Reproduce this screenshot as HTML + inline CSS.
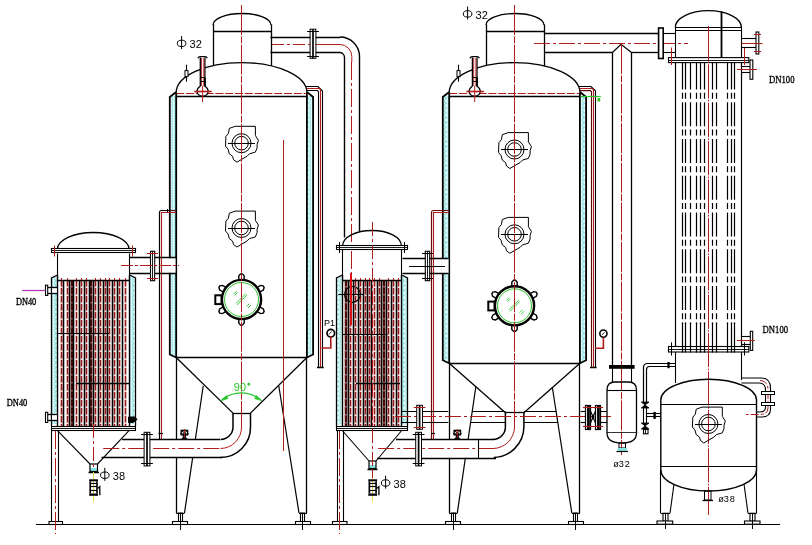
<!DOCTYPE html>
<html><head><meta charset="utf-8"><style>
html,body{margin:0;padding:0;background:#fff;}
svg{display:block;font-family:"Liberation Sans",sans-serif;}
</style></head><body>
<svg width="812" height="545" viewBox="0 0 812 545">
<defs>
<filter id="nolcd" filterUnits="userSpaceOnUse" x="0" y="0" width="812" height="545"><feOffset dx="0" dy="0"/></filter>
<pattern id="ins" width="6" height="4.8" patternUnits="userSpaceOnUse">
<rect width="6" height="4.8" fill="#e2fafa"/><path d="M0,0.6 L2.5,2.4 L0,4.2 M3.5,1.2 L5,1.2 M3.5,3.6 L5,3.6" stroke="#4ccccc" stroke-width="0.9" fill="none"/>
</pattern>
</defs>
<rect width="812" height="545" fill="#fff"/>
<line x1="36" y1="524.5" x2="780" y2="524.5" stroke="#000" stroke-width="1.2"/>
<path d="M57.5,249 A35.75,16.5 0 0 1 129,249" stroke="#000" stroke-width="1.3" fill="none"/>
<rect x="51.5" y="248.5" width="84" height="4" stroke="#000" stroke-width="1.1" fill="#fff"/>
<line x1="51" y1="250.5" x2="135.5" y2="250.5" stroke="#000" stroke-width="0.9"/>
<line x1="54.5" y1="245.5" x2="54.5" y2="256.5" stroke="#b01c1c" stroke-width="1"/>
<line x1="132.5" y1="245.5" x2="132.5" y2="256.5" stroke="#b01c1c" stroke-width="1"/>
<line x1="57.5" y1="253.5" x2="57.5" y2="281" stroke="#000" stroke-width="1.1"/>
<line x1="129.5" y1="253.5" x2="129.5" y2="281" stroke="#000" stroke-width="1.1"/>
<line x1="61.5" y1="280" x2="61.5" y2="426" stroke="#f6dede" stroke-width="2.4"/>
<line x1="67.5" y1="280" x2="67.5" y2="426" stroke="#f6dede" stroke-width="2.4"/>
<line x1="76.5" y1="280" x2="76.5" y2="426" stroke="#f6dede" stroke-width="2.4"/>
<line x1="81.5" y1="280" x2="81.5" y2="426" stroke="#f6dede" stroke-width="2.4"/>
<line x1="86.5" y1="280" x2="86.5" y2="426" stroke="#f6dede" stroke-width="2.4"/>
<line x1="95.5" y1="280" x2="95.5" y2="426" stroke="#f6dede" stroke-width="2.4"/>
<line x1="100.5" y1="280" x2="100.5" y2="426" stroke="#f6dede" stroke-width="2.4"/>
<line x1="105.5" y1="280" x2="105.5" y2="426" stroke="#f6dede" stroke-width="2.4"/>
<line x1="109.5" y1="280" x2="109.5" y2="426" stroke="#f6dede" stroke-width="2.4"/>
<line x1="114.5" y1="280" x2="114.5" y2="426" stroke="#f6dede" stroke-width="2.4"/>
<line x1="119.5" y1="280" x2="119.5" y2="426" stroke="#f6dede" stroke-width="2.4"/>
<line x1="125.5" y1="280" x2="125.5" y2="426" stroke="#f6dede" stroke-width="2.4"/>
<line x1="61.5" y1="280" x2="61.5" y2="426" stroke="#9c1818" stroke-width="1.5" stroke-dasharray="6.4 1.6"/>
<line x1="67.5" y1="280" x2="67.5" y2="426" stroke="#9c1818" stroke-width="1.5" stroke-dasharray="6.4 1.6"/>
<line x1="76.5" y1="280" x2="76.5" y2="426" stroke="#9c1818" stroke-width="1.5" stroke-dasharray="6.4 1.6"/>
<line x1="81.5" y1="280" x2="81.5" y2="426" stroke="#9c1818" stroke-width="1.5" stroke-dasharray="6.4 1.6"/>
<line x1="86.5" y1="280" x2="86.5" y2="426" stroke="#9c1818" stroke-width="1.5" stroke-dasharray="6.4 1.6"/>
<line x1="95.5" y1="280" x2="95.5" y2="426" stroke="#9c1818" stroke-width="1.5" stroke-dasharray="6.4 1.6"/>
<line x1="100.5" y1="280" x2="100.5" y2="426" stroke="#9c1818" stroke-width="1.5" stroke-dasharray="6.4 1.6"/>
<line x1="105.5" y1="280" x2="105.5" y2="426" stroke="#9c1818" stroke-width="1.5" stroke-dasharray="6.4 1.6"/>
<line x1="109.5" y1="280" x2="109.5" y2="426" stroke="#9c1818" stroke-width="1.5" stroke-dasharray="6.4 1.6"/>
<line x1="114.5" y1="280" x2="114.5" y2="426" stroke="#9c1818" stroke-width="1.5" stroke-dasharray="6.4 1.6"/>
<line x1="119.5" y1="280" x2="119.5" y2="426" stroke="#9c1818" stroke-width="1.5" stroke-dasharray="6.4 1.6"/>
<line x1="125.5" y1="280" x2="125.5" y2="426" stroke="#9c1818" stroke-width="1.5" stroke-dasharray="6.4 1.6"/>
<line x1="72" y1="280" x2="72" y2="426" stroke="#4a0606" stroke-width="2.6"/>
<line x1="72" y1="286" x2="72" y2="426" stroke="#fff" stroke-width="0.8" stroke-dasharray="1.4 6.6"/>
<line x1="91" y1="280" x2="91" y2="426" stroke="#4a0606" stroke-width="2.6"/>
<line x1="91" y1="286" x2="91" y2="426" stroke="#fff" stroke-width="0.8" stroke-dasharray="1.4 6.6"/>
<line x1="63.5" y1="280" x2="63.5" y2="426" stroke="#000" stroke-width="1.6"/>
<line x1="69.5" y1="280" x2="69.5" y2="426" stroke="#000" stroke-width="1.6"/>
<line x1="73.5" y1="280" x2="73.5" y2="426" stroke="#000" stroke-width="1.6"/>
<line x1="79.5" y1="280" x2="79.5" y2="426" stroke="#000" stroke-width="1.6"/>
<line x1="84.5" y1="280" x2="84.5" y2="426" stroke="#000" stroke-width="1.6"/>
<line x1="89.5" y1="280" x2="89.5" y2="426" stroke="#000" stroke-width="1.6"/>
<line x1="93.5" y1="280" x2="93.5" y2="426" stroke="#000" stroke-width="1.6"/>
<line x1="98.5" y1="280" x2="98.5" y2="426" stroke="#000" stroke-width="1.6"/>
<line x1="103.5" y1="280" x2="103.5" y2="426" stroke="#000" stroke-width="1.6"/>
<line x1="107.5" y1="280" x2="107.5" y2="426" stroke="#000" stroke-width="1.6"/>
<line x1="112.5" y1="280" x2="112.5" y2="426" stroke="#000" stroke-width="1.6"/>
<line x1="117.5" y1="280" x2="117.5" y2="426" stroke="#000" stroke-width="1.6"/>
<line x1="122.5" y1="280" x2="122.5" y2="426" stroke="#000" stroke-width="1.6"/>
<line x1="57.5" y1="280.5" x2="129" y2="280.5" stroke="#000" stroke-width="1.3"/>
<line x1="61.5" y1="278" x2="61.5" y2="280" stroke="#b01c1c" stroke-width="1"/>
<line x1="67.5" y1="278" x2="67.5" y2="280" stroke="#b01c1c" stroke-width="1"/>
<line x1="76.5" y1="278" x2="76.5" y2="280" stroke="#b01c1c" stroke-width="1"/>
<line x1="81.5" y1="278" x2="81.5" y2="280" stroke="#b01c1c" stroke-width="1"/>
<line x1="86.5" y1="278" x2="86.5" y2="280" stroke="#b01c1c" stroke-width="1"/>
<line x1="95.5" y1="278" x2="95.5" y2="280" stroke="#b01c1c" stroke-width="1"/>
<line x1="100.5" y1="278" x2="100.5" y2="280" stroke="#b01c1c" stroke-width="1"/>
<line x1="105.5" y1="278" x2="105.5" y2="280" stroke="#b01c1c" stroke-width="1"/>
<line x1="109.5" y1="278" x2="109.5" y2="280" stroke="#b01c1c" stroke-width="1"/>
<line x1="114.5" y1="278" x2="114.5" y2="280" stroke="#b01c1c" stroke-width="1"/>
<line x1="119.5" y1="278" x2="119.5" y2="280" stroke="#b01c1c" stroke-width="1"/>
<line x1="125.5" y1="278" x2="125.5" y2="280" stroke="#b01c1c" stroke-width="1"/>
<rect x="52" y="277" width="5" height="147" fill="url(#ins)"/>
<rect x="129.5" y="277" width="5" height="147" fill="url(#ins)"/>
<path d="M57.5,275 L51.5,278 L51.5,426" stroke="#000" stroke-width="1.3" fill="none"/>
<path d="M129.5,275 L135.5,278 L135.5,426" stroke="#000" stroke-width="1.3" fill="none"/>
<line x1="57.5" y1="275" x2="57.5" y2="426" stroke="#000" stroke-width="1.4"/>
<line x1="129.5" y1="275" x2="129.5" y2="426" stroke="#000" stroke-width="1.4"/>
<rect x="51.5" y="426.5" width="84" height="4" stroke="#000" stroke-width="1.1" fill="#fff"/>
<line x1="51" y1="428.5" x2="135.5" y2="428.5" stroke="#000" stroke-width="0.9"/>
<line x1="57.5" y1="430.6" x2="90" y2="464" stroke="#000" stroke-width="1.1"/>
<line x1="129" y1="430.6" x2="97.5" y2="464" stroke="#000" stroke-width="1.1"/>
<rect x="90" y="468" width="7.5" height="3" fill="#86e6e6"/>
<rect x="90" y="464" width="7.5" height="7.5" stroke="#000" stroke-width="1.2" fill="none"/>
<line x1="88.5" y1="472.5" x2="99" y2="472.5" stroke="#000" stroke-width="1.5"/>
<line x1="57" y1="333.5" x2="109" y2="333.5" stroke="#000" stroke-width="1.2"/>
<line x1="76" y1="383.5" x2="129" y2="383.5" stroke="#000" stroke-width="1.4"/>
<rect x="52" y="287.6" width="5" height="5.4" fill="#fff"/>
<line x1="47.7" y1="287.5" x2="57" y2="287.5" stroke="#000" stroke-width="1.3"/>
<line x1="47.7" y1="293.5" x2="57" y2="293.5" stroke="#000" stroke-width="1.3"/>
<rect x="45.5" y="285.2" width="2.2" height="10.2" stroke="#000" stroke-width="1.1" fill="#fff"/>
<rect x="52" y="414.7" width="5" height="5.4" fill="#fff"/>
<line x1="47.7" y1="414.5" x2="57" y2="414.5" stroke="#000" stroke-width="1.3"/>
<line x1="47.7" y1="420.5" x2="57" y2="420.5" stroke="#000" stroke-width="1.3"/>
<rect x="45.5" y="412.3" width="2.2" height="10.2" stroke="#000" stroke-width="1.1" fill="#fff"/>
<line x1="22.2" y1="290.5" x2="45.5" y2="290.5" stroke="#b030b0" stroke-width="1.2"/>
<line x1="51.5" y1="431" x2="51.5" y2="521.5" stroke="#000" stroke-width="1.1"/>
<line x1="58.5" y1="431" x2="58.5" y2="521.5" stroke="#000" stroke-width="1.1"/>
<rect x="49" y="521.5" width="13.5" height="3" stroke="#000" stroke-width="1.1" fill="#fff"/>
<line x1="55.5" y1="431" x2="55.5" y2="534" stroke="#b01c1c" stroke-width="1" stroke-dasharray="18 3 3 3"/>
<line x1="93.5" y1="424" x2="93.5" y2="470" stroke="#b01c1c" stroke-width="1" stroke-dasharray="14 3 3 3"/>
<line x1="93.5" y1="472" x2="93.5" y2="502" stroke="#e6e34a" stroke-width="1"/>
<rect x="89.2" y="479.3" width="8.8" height="2" fill="#000"/>
<rect x="89.2" y="493.5" width="8.8" height="2.3" fill="#000"/>
<path d="M90.2,481.3 L90.2,493.5 M97,481.3 L97,493.5" stroke="#000" stroke-width="1.6" fill="none"/>
<line x1="90.2" y1="483.5" x2="97" y2="483.5" stroke="#000" stroke-width="1.2"/>
<line x1="90.2" y1="486.5" x2="97" y2="486.5" stroke="#000" stroke-width="1.2"/>
<line x1="90.2" y1="490.5" x2="97" y2="490.5" stroke="#000" stroke-width="1.2"/>
<path d="M98,488.3 L99.8,486.7 L99.8,495.3" stroke="#000" stroke-width="1.3" fill="none"/>
<g stroke="#000" stroke-width="1" fill="none"><line x1="104.8" y1="467.8" x2="104.8" y2="480.8"/><ellipse cx="104.8" cy="475.2" rx="4.3" ry="3.2"/></g>
<path d="M213,25 A29,11.5 0 0 1 271,25" stroke="#000" stroke-width="1.3" fill="none"/>
<line x1="213.5" y1="24.5" x2="213.5" y2="66" stroke="#000" stroke-width="1.3"/>
<line x1="271.5" y1="24.5" x2="271.5" y2="66" stroke="#000" stroke-width="1.3"/>
<line x1="213" y1="31.5" x2="271" y2="31.5" stroke="#000" stroke-width="1.3"/>
<path d="M176.2,92.5 A65.35,29.9 0 0 1 306.9,92.5" stroke="#000" stroke-width="1.4" fill="none"/>
<line x1="176.2" y1="93.5" x2="308.9" y2="93.5" stroke="#b01c1c" stroke-width="1" stroke-dasharray="8 1.8"/>
<line x1="176.2" y1="96.5" x2="306.9" y2="96.5" stroke="#000" stroke-width="1.3"/>
<rect x="170.8" y="96" width="5.4" height="259.5" fill="url(#ins)"/>
<rect x="306.9" y="96" width="5.4" height="259.5" fill="url(#ins)"/>
<path d="M176.2,92.5 L176.2,357.5" stroke="#000" stroke-width="1.8" fill="none"/>
<path d="M176.2,92 L169.8,97 L169.8,354.5 L176.2,357.5" stroke="#000" stroke-width="1.8" fill="none"/>
<path d="M306.9,92.5 L306.9,357.5" stroke="#000" stroke-width="1.8" fill="none"/>
<path d="M306.9,92 L313.1,97 L313.1,354.5 L306.9,357.5" stroke="#000" stroke-width="1.8" fill="none"/>
<line x1="176.2" y1="357.5" x2="306.9" y2="357.5" stroke="#000" stroke-width="1.3"/>
<line x1="176.2" y1="357.5" x2="233" y2="413.1" stroke="#000" stroke-width="1.3"/>
<line x1="306.9" y1="357.5" x2="250.5" y2="413.1" stroke="#000" stroke-width="1.3"/>
<line x1="233" y1="413.5" x2="250.5" y2="413.5" stroke="#000" stroke-width="1.3"/>
<path d="M233,413.1 L233,427 A12.5,12.5 0 0 1 220.5,439.5" stroke="#000" stroke-width="1.5" fill="none"/>
<path d="M250.5,413.1 L250.5,427 A30,30 0 0 1 220.5,457.5" stroke="#000" stroke-width="1.5" fill="none"/>
<path d="M241.5,410.1 L241.5,427 A21.25,21.25 0 0 1 220.5,448.5" stroke="#b01c1c" stroke-width="1" fill="none"/>
<line x1="176.5" y1="357.5" x2="176.5" y2="513" stroke="#000" stroke-width="1.3"/>
<line x1="203.2" y1="386" x2="184.5" y2="513" stroke="#000" stroke-width="1.2"/>
<line x1="176.2" y1="513.5" x2="184.5" y2="513.5" stroke="#000" stroke-width="1.1"/>
<rect x="178.5" y="513" width="4" height="9" stroke="#000" stroke-width="1.1" fill="none"/>
<rect x="172.5" y="521.5" width="15" height="3" stroke="#000" stroke-width="1.1" fill="#fff"/>
<line x1="180.5" y1="513" x2="180.5" y2="530" stroke="#000" stroke-width="1"/>
<line x1="306.5" y1="357.5" x2="306.5" y2="513" stroke="#000" stroke-width="1.3"/>
<line x1="278.8" y1="386" x2="299" y2="513" stroke="#000" stroke-width="1.2"/>
<line x1="306.9" y1="513.5" x2="299" y2="513.5" stroke="#000" stroke-width="1.1"/>
<rect x="300.5" y="513" width="4" height="9" stroke="#000" stroke-width="1.1" fill="none"/>
<rect x="295.5" y="521.5" width="15" height="3" stroke="#000" stroke-width="1.1" fill="#fff"/>
<line x1="302.5" y1="513" x2="302.5" y2="530" stroke="#000" stroke-width="1"/>
<path d="M229.3,128.4 L235.2,126.3 L255.4,126.3 L255.4,135.6 L258.4,140.2 L257.1,144.5 L257.1,147.8 L255.4,152.1 L249.5,153.8 L247,156.3 L241.1,159.7 L236.9,162.2 L233.5,159.7 L232.6,156.3 L229.3,153.8 L228,149.1 L225.5,146.2 L225.9,136.4 L228.4,133.5Z" stroke="#000" stroke-width="1" fill="none"/>
<circle cx="241.5" cy="143.2" r="9.5" stroke="#000" stroke-width="1" fill="none"/>
<circle cx="241.5" cy="143.2" r="6.8" stroke="#000" stroke-width="1" fill="none"/>
<line x1="228" y1="143.5" x2="255" y2="143.5" stroke="#000" stroke-width="1"/>
<path d="M229.3,213.2 L235.2,211.1 L255.4,211.1 L255.4,220.4 L258.4,225 L257.1,229.3 L257.1,232.6 L255.4,236.9 L249.5,238.6 L247,241.1 L241.1,244.5 L236.9,247 L233.5,244.5 L232.6,241.1 L229.3,238.6 L228,233.9 L225.5,231 L225.9,221.2 L228.4,218.3Z" stroke="#000" stroke-width="1" fill="none"/>
<circle cx="241.5" cy="228" r="9.5" stroke="#000" stroke-width="1" fill="none"/>
<circle cx="241.5" cy="228" r="6.8" stroke="#000" stroke-width="1" fill="none"/>
<line x1="228" y1="228.5" x2="255" y2="228.5" stroke="#000" stroke-width="1"/>
<path d="M244.2,280 L244.2,275.9 L242.5,273.9 L240.5,273.9 L238.8,275.9 L238.8,280Z" stroke="#000" stroke-width="1.4" fill="#fff"/>
<path d="M259.74,292.09 L263.29,290.04 L264.17,287.57 L263.17,285.83 L260.59,285.36 L257.04,287.41Z" stroke="#000" stroke-width="1.4" fill="#fff"/>
<path d="M257.04,311.59 L260.59,313.64 L263.17,313.17 L264.17,311.43 L263.29,308.96 L259.74,306.91Z" stroke="#000" stroke-width="1.4" fill="#fff"/>
<path d="M238.8,319 L238.8,323.1 L240.5,325.1 L242.5,325.1 L244.2,323.1 L244.2,319Z" stroke="#000" stroke-width="1.4" fill="#fff"/>
<path d="M223.26,306.91 L219.71,308.96 L218.83,311.43 L219.83,313.17 L222.41,313.64 L225.96,311.59Z" stroke="#000" stroke-width="1.4" fill="#fff"/>
<path d="M225.96,287.41 L222.41,285.36 L219.83,285.83 L218.83,287.57 L219.71,290.04 L223.26,292.09Z" stroke="#000" stroke-width="1.4" fill="#fff"/>
<circle cx="241.5" cy="299.5" r="19.6" stroke="#000" stroke-width="2.4" fill="#fff"/>
<circle cx="241.5" cy="299.5" r="17" stroke="#2cc52c" stroke-width="1" fill="none"/>
<rect x="215.3" y="295.3" width="6.2" height="8.8" stroke="#000" stroke-width="2" fill="#fff"/>
<line x1="233.5" y1="294" x2="236.5" y2="291" stroke="#2cc52c" stroke-width="0.9"/>
<line x1="234.5" y1="295.5" x2="237.5" y2="292.5" stroke="#2cc52c" stroke-width="0.9"/>
<line x1="236" y1="303.5" x2="246" y2="293.5" stroke="#2cc52c" stroke-width="0.9"/>
<line x1="237" y1="305" x2="247" y2="295" stroke="#2cc52c" stroke-width="0.9"/>
<line x1="246.5" y1="306.5" x2="249.5" y2="303.5" stroke="#2cc52c" stroke-width="0.9"/>
<line x1="248" y1="308" x2="251" y2="305" stroke="#2cc52c" stroke-width="0.9"/>
<line x1="241.5" y1="5" x2="241.5" y2="418" stroke="#b01c1c" stroke-width="1" stroke-dasharray="30 1.3 7 1.3"/>
<path d="M200.3,57.5 L200.3,86 Q197,88.5 197,91.5 Q197.6,96 202.6,96.2 Q207.6,96 208.2,91.5 Q208.2,88.5 204.9,86 L204.9,57.5" stroke="#000" stroke-width="1.3" fill="#fff"/>
<path d="M198,58.3 Q198.6,56.6 200.1,56.6 L205.1,56.6 Q206.6,56.6 207.2,58.3" stroke="#000" stroke-width="1.4" fill="none"/>
<line x1="201.6" y1="58" x2="201.6" y2="86" stroke="#b01c1c" stroke-width="0.9"/>
<line x1="203.8" y1="58" x2="203.8" y2="86" stroke="#b01c1c" stroke-width="0.9"/>
<line x1="200.3" y1="77.5" x2="204.9" y2="77.5" stroke="#000" stroke-width="1"/>
<line x1="200.3" y1="81.5" x2="204.9" y2="81.5" stroke="#000" stroke-width="1"/>
<line x1="204.9" y1="77.5" x2="204.9" y2="86.5" stroke="#000" stroke-width="1.8"/>
<line x1="202.6" y1="86" x2="202.6" y2="102" stroke="#b01c1c" stroke-width="1"/>
<line x1="194.3" y1="91.5" x2="211.7" y2="91.5" stroke="#b01c1c" stroke-width="1.6"/>
<line x1="186.5" y1="64.7" x2="186.5" y2="81.7" stroke="#000" stroke-width="1.1"/>
<rect x="185" y="70.6" width="3" height="6" stroke="#000" stroke-width="1" fill="#fff"/>
<line x1="283.5" y1="140" x2="283.5" y2="451" stroke="#b01c1c" stroke-width="1"/>
<path d="M159.5,439 L159.5,212.5 Q159.5,210.5 161.5,210.5 L170,210.5" stroke="#000" stroke-width="1.2" fill="none"/>
<path d="M170,210.5 L176,210.5" stroke="#6a0a0a" stroke-width="1.2" fill="none"/>
<path d="M161.5,439 L161.5,212.5 L176,212.5" stroke="#b01c1c" stroke-width="1.1" fill="none"/>
<line x1="158.5" y1="433.5" x2="163" y2="433.5" stroke="#000" stroke-width="1.2"/>
<path d="M128.5,417 L135,417 L137,419.5 L133,422.5 L128.5,422.5 Z" stroke="#000" stroke-width="1" fill="#000"/>
<line x1="167.5" y1="209" x2="167.5" y2="212" stroke="#000" stroke-width="1"/>
<rect x="168" y="258.2" width="7.5" height="14.6" fill="#fff"/>
<line x1="129" y1="257.5" x2="176" y2="257.5" stroke="#000" stroke-width="1.4"/>
<line x1="129" y1="273.5" x2="176" y2="273.5" stroke="#000" stroke-width="1.4"/>
<rect x="150.5" y="251.3" width="4.2" height="29.4" stroke="#000" stroke-width="1.1" fill="#fff"/>
<line x1="152.5" y1="251.3" x2="152.5" y2="280.7" stroke="#000" stroke-width="0.9"/>
<line x1="147" y1="253.5" x2="158" y2="253.5" stroke="#b01c1c" stroke-width="1"/>
<line x1="147" y1="278.5" x2="158" y2="278.5" stroke="#b01c1c" stroke-width="1"/>
<line x1="121" y1="265.5" x2="179" y2="265.5" stroke="#b01c1c" stroke-width="1" stroke-dasharray="12 2 3 2"/>
<g stroke="#000" stroke-width="1" fill="none"><line x1="181.6" y1="36" x2="181.6" y2="49"/><ellipse cx="181.6" cy="43.4" rx="4.3" ry="3.2"/></g>
<path d="M222.5,399.3 A30.5,30.5 0 0 1 260.1,399.3" stroke="#2cc52c" stroke-width="1.2" fill="none"/>
<path d="M220.6,400.8 L226.5,395.6 L227.8,398.6 Z" stroke="#2cc52c" stroke-width="0.8" fill="#2cc52c"/>
<path d="M262,400.8 L256.1,395.6 L254.8,398.6 Z" stroke="#2cc52c" stroke-width="0.8" fill="#2cc52c"/>
<circle cx="248.8" cy="384.2" r="1.1" stroke="#2cc52c" stroke-width="0.8" fill="#2cc52c"/>
<line x1="270.5" y1="37.5" x2="340" y2="37.5" stroke="#000" stroke-width="1.3"/>
<line x1="270.5" y1="52.5" x2="340" y2="52.5" stroke="#000" stroke-width="1.3"/>
<path d="M340,37 A19.5,19.5 0 0 1 359.5,56.5 L359.5,231" stroke="#000" stroke-width="1.4" fill="none"/>
<path d="M340,52.5 A5,5 0 0 1 344.5,57.5 L344.5,237.5" stroke="#000" stroke-width="1.4" fill="none"/>
<line x1="272" y1="44.5" x2="310" y2="44.5" stroke="#b01c1c" stroke-width="1" stroke-dasharray="12 3 3 3"/>
<path d="M310,44.5 L340,44.5 A12,12 0 0 1 351.8,56.5 L351.8,62" stroke="#b01c1c" stroke-width="1" fill="none"/>
<line x1="351.5" y1="62" x2="351.5" y2="273" stroke="#b01c1c" stroke-width="1" stroke-dasharray="18 3 3 3"/>
<rect x="310.1" y="29.2" width="5.8" height="29.1" stroke="#000" stroke-width="1" fill="#fff"/>
<line x1="313" y1="29.2" x2="313" y2="58.3" stroke="#000" stroke-width="1.7"/>
<line x1="307.1" y1="31.5" x2="318.9" y2="31.5" stroke="#000" stroke-width="1"/>
<line x1="307.1" y1="56.5" x2="318.9" y2="56.5" stroke="#000" stroke-width="1"/>
<path d="M306,86.5 L318,86.5 L322.5,91 L322.5,367" stroke="#000" stroke-width="1.1" fill="none"/>
<path d="M307,88.5 L319.5,88.5 L320.5,90 L320.5,367" stroke="#b01c1c" stroke-width="1.1" fill="none"/>
<path d="M307,90.5 L317.5,90.5 L318.5,92 L318.5,367" stroke="#000" stroke-width="1.1" fill="none"/>
<line x1="317" y1="367.5" x2="323.7" y2="367.5" stroke="#000" stroke-width="1.5"/>
<circle cx="330.8" cy="333.2" r="3.8" stroke="#000" stroke-width="1.7" fill="#fff"/>
<line x1="329" y1="334.5" x2="331.5" y2="331.5" stroke="#000" stroke-width="0.8"/>
<path d="M330.8,336.5 L330.8,348 L321.5,348" stroke="#b01c1c" stroke-width="1.6" fill="none"/>
<rect x="181.2" y="430.4" width="6.4" height="4.4" stroke="#000" stroke-width="1.4" fill="#fff"/>
<line x1="182" y1="431.2" x2="186.8" y2="434.2" stroke="#000" stroke-width="1"/>
<line x1="182" y1="434.2" x2="186.8" y2="431.2" stroke="#000" stroke-width="1"/>
<line x1="180.1" y1="433.5" x2="181.2" y2="433.5" stroke="#000" stroke-width="1.2"/>
<line x1="187.6" y1="433.5" x2="188.7" y2="433.5" stroke="#000" stroke-width="1.2"/>
<path d="M183.1,434.8 L185.7,434.8 L185.7,437.3 L187.2,439.1 L181.6,439.1 L183.1,437.3 Z" stroke="#000" stroke-width="0.6" fill="#000"/>
<line x1="184.4" y1="429" x2="184.4" y2="437.8" stroke="#b01c1c" stroke-width="1"/>
<rect x="123" y="440" width="97" height="17" fill="#fff"/>
<line x1="122" y1="439.5" x2="220" y2="439.5" stroke="#000" stroke-width="1.4"/>
<line x1="101.5" y1="457.5" x2="222" y2="457.5" stroke="#000" stroke-width="1.4"/>
<line x1="103.2" y1="448.5" x2="221" y2="448.5" stroke="#b01c1c" stroke-width="1" stroke-dasharray="16 3 3 3"/>
<rect x="144.1" y="432.3" width="5.8" height="33.6" stroke="#000" stroke-width="1" fill="#fff"/>
<line x1="147" y1="432.3" x2="147" y2="465.9" stroke="#000" stroke-width="1.7"/>
<line x1="141.1" y1="434.5" x2="152.9" y2="434.5" stroke="#000" stroke-width="1"/>
<line x1="141.1" y1="463.5" x2="152.9" y2="463.5" stroke="#000" stroke-width="1"/>
<path d="M342.7,245.5 A29.3,15 0 0 1 401.3,245.5" stroke="#000" stroke-width="1.3" fill="none"/>
<rect x="336.5" y="245.5" width="71" height="4" stroke="#000" stroke-width="1.1" fill="#fff"/>
<line x1="336.2" y1="247.5" x2="407.8" y2="247.5" stroke="#000" stroke-width="0.9"/>
<line x1="339.5" y1="242" x2="339.5" y2="253" stroke="#000" stroke-width="1"/>
<line x1="404.5" y1="242" x2="404.5" y2="253" stroke="#000" stroke-width="1"/>
<line x1="342.5" y1="250" x2="342.5" y2="281" stroke="#000" stroke-width="1.1"/>
<line x1="401.5" y1="250" x2="401.5" y2="281" stroke="#000" stroke-width="1.1"/>
<line x1="350.5" y1="280" x2="350.5" y2="426.4" stroke="#f6dede" stroke-width="2.4"/>
<line x1="355.5" y1="280" x2="355.5" y2="426.4" stroke="#f6dede" stroke-width="2.4"/>
<line x1="360.5" y1="280" x2="360.5" y2="426.4" stroke="#f6dede" stroke-width="2.4"/>
<line x1="365.5" y1="280" x2="365.5" y2="426.4" stroke="#f6dede" stroke-width="2.4"/>
<line x1="369.5" y1="280" x2="369.5" y2="426.4" stroke="#f6dede" stroke-width="2.4"/>
<line x1="374.5" y1="280" x2="374.5" y2="426.4" stroke="#f6dede" stroke-width="2.4"/>
<line x1="379.5" y1="280" x2="379.5" y2="426.4" stroke="#f6dede" stroke-width="2.4"/>
<line x1="388.5" y1="280" x2="388.5" y2="426.4" stroke="#f6dede" stroke-width="2.4"/>
<line x1="393.5" y1="280" x2="393.5" y2="426.4" stroke="#f6dede" stroke-width="2.4"/>
<line x1="398.5" y1="280" x2="398.5" y2="426.4" stroke="#f6dede" stroke-width="2.4"/>
<line x1="350.5" y1="280" x2="350.5" y2="426.4" stroke="#9c1818" stroke-width="1.5" stroke-dasharray="6.4 1.6"/>
<line x1="355.5" y1="280" x2="355.5" y2="426.4" stroke="#9c1818" stroke-width="1.5" stroke-dasharray="6.4 1.6"/>
<line x1="360.5" y1="280" x2="360.5" y2="426.4" stroke="#9c1818" stroke-width="1.5" stroke-dasharray="6.4 1.6"/>
<line x1="365.5" y1="280" x2="365.5" y2="426.4" stroke="#9c1818" stroke-width="1.5" stroke-dasharray="6.4 1.6"/>
<line x1="369.5" y1="280" x2="369.5" y2="426.4" stroke="#9c1818" stroke-width="1.5" stroke-dasharray="6.4 1.6"/>
<line x1="374.5" y1="280" x2="374.5" y2="426.4" stroke="#9c1818" stroke-width="1.5" stroke-dasharray="6.4 1.6"/>
<line x1="379.5" y1="280" x2="379.5" y2="426.4" stroke="#9c1818" stroke-width="1.5" stroke-dasharray="6.4 1.6"/>
<line x1="388.5" y1="280" x2="388.5" y2="426.4" stroke="#9c1818" stroke-width="1.5" stroke-dasharray="6.4 1.6"/>
<line x1="393.5" y1="280" x2="393.5" y2="426.4" stroke="#9c1818" stroke-width="1.5" stroke-dasharray="6.4 1.6"/>
<line x1="398.5" y1="280" x2="398.5" y2="426.4" stroke="#9c1818" stroke-width="1.5" stroke-dasharray="6.4 1.6"/>
<line x1="346" y1="280" x2="346" y2="426.4" stroke="#4a0606" stroke-width="2.6"/>
<line x1="346" y1="286" x2="346" y2="426.4" stroke="#fff" stroke-width="0.8" stroke-dasharray="1.4 6.6"/>
<line x1="384" y1="280" x2="384" y2="426.4" stroke="#4a0606" stroke-width="2.6"/>
<line x1="384" y1="286" x2="384" y2="426.4" stroke="#fff" stroke-width="0.8" stroke-dasharray="1.4 6.6"/>
<line x1="348.5" y1="280" x2="348.5" y2="426.4" stroke="#000" stroke-width="1.6"/>
<line x1="353.5" y1="280" x2="353.5" y2="426.4" stroke="#000" stroke-width="1.6"/>
<line x1="358.5" y1="280" x2="358.5" y2="426.4" stroke="#000" stroke-width="1.6"/>
<line x1="363.5" y1="280" x2="363.5" y2="426.4" stroke="#000" stroke-width="1.6"/>
<line x1="367.5" y1="280" x2="367.5" y2="426.4" stroke="#000" stroke-width="1.6"/>
<line x1="371.5" y1="280" x2="371.5" y2="426.4" stroke="#000" stroke-width="1.6"/>
<line x1="377.5" y1="280" x2="377.5" y2="426.4" stroke="#000" stroke-width="1.6"/>
<line x1="381.5" y1="280" x2="381.5" y2="426.4" stroke="#000" stroke-width="1.6"/>
<line x1="386.5" y1="280" x2="386.5" y2="426.4" stroke="#000" stroke-width="1.6"/>
<line x1="391.5" y1="280" x2="391.5" y2="426.4" stroke="#000" stroke-width="1.6"/>
<line x1="396.5" y1="280" x2="396.5" y2="426.4" stroke="#000" stroke-width="1.6"/>
<line x1="342.7" y1="280.5" x2="401.3" y2="280.5" stroke="#000" stroke-width="1.3"/>
<line x1="350.5" y1="278" x2="350.5" y2="280" stroke="#b01c1c" stroke-width="1"/>
<line x1="355.5" y1="278" x2="355.5" y2="280" stroke="#b01c1c" stroke-width="1"/>
<line x1="360.5" y1="278" x2="360.5" y2="280" stroke="#b01c1c" stroke-width="1"/>
<line x1="365.5" y1="278" x2="365.5" y2="280" stroke="#b01c1c" stroke-width="1"/>
<line x1="369.5" y1="278" x2="369.5" y2="280" stroke="#b01c1c" stroke-width="1"/>
<line x1="374.5" y1="278" x2="374.5" y2="280" stroke="#b01c1c" stroke-width="1"/>
<line x1="379.5" y1="278" x2="379.5" y2="280" stroke="#b01c1c" stroke-width="1"/>
<line x1="388.5" y1="278" x2="388.5" y2="280" stroke="#b01c1c" stroke-width="1"/>
<line x1="393.5" y1="278" x2="393.5" y2="280" stroke="#b01c1c" stroke-width="1"/>
<line x1="398.5" y1="278" x2="398.5" y2="280" stroke="#b01c1c" stroke-width="1"/>
<rect x="337.2" y="277" width="5" height="147.4" fill="url(#ins)"/>
<rect x="401.8" y="277" width="5" height="147.4" fill="url(#ins)"/>
<path d="M342.5,275 L336.5,278 L336.5,426.4" stroke="#000" stroke-width="1.3" fill="none"/>
<path d="M401.5,275 L407.5,278 L407.5,426.4" stroke="#000" stroke-width="1.3" fill="none"/>
<line x1="342.5" y1="275" x2="342.5" y2="426.4" stroke="#000" stroke-width="1.4"/>
<line x1="401.5" y1="275" x2="401.5" y2="426.4" stroke="#000" stroke-width="1.4"/>
<rect x="336.5" y="426.5" width="71" height="4" stroke="#000" stroke-width="1.1" fill="#fff"/>
<line x1="336.2" y1="428.5" x2="407.8" y2="428.5" stroke="#000" stroke-width="0.9"/>
<line x1="342.7" y1="431" x2="369" y2="461" stroke="#000" stroke-width="1.1"/>
<line x1="401.3" y1="431" x2="376" y2="461" stroke="#000" stroke-width="1.1"/>
<rect x="369" y="465" width="7" height="3" fill="#86e6e6"/>
<rect x="369" y="461" width="7" height="7.5" stroke="#000" stroke-width="1.2" fill="none"/>
<line x1="367.5" y1="469.5" x2="377.5" y2="469.5" stroke="#000" stroke-width="1.5"/>
<line x1="356" y1="383.5" x2="400" y2="383.5" stroke="#000" stroke-width="1.4"/>
<line x1="342.5" y1="334.5" x2="387.5" y2="334.5" stroke="#000" stroke-width="1.2"/>
<circle cx="352.5" cy="294.4" r="7.9" stroke="#000" stroke-width="1.2" fill="none"/>
<line x1="338.4" y1="294.5" x2="363.8" y2="294.5" stroke="#000" stroke-width="1.1"/>
<line x1="351" y1="273" x2="351" y2="325" stroke="#dd1111" stroke-width="2"/>
<line x1="372.5" y1="222" x2="372.5" y2="472" stroke="#b01c1c" stroke-width="1" stroke-dasharray="14 3 3 3"/>
<line x1="337.5" y1="431" x2="337.5" y2="521.5" stroke="#000" stroke-width="1.1"/>
<line x1="343.5" y1="431" x2="343.5" y2="521.5" stroke="#000" stroke-width="1.1"/>
<rect x="332.5" y="521.5" width="14.5" height="3" stroke="#000" stroke-width="1.1" fill="#fff"/>
<line x1="339.5" y1="431" x2="339.5" y2="534" stroke="#b01c1c" stroke-width="1" stroke-dasharray="18 3 3 3"/>
<line x1="372.5" y1="472" x2="372.5" y2="502" stroke="#e6e34a" stroke-width="1"/>
<line x1="372.5" y1="470" x2="372.5" y2="478" stroke="#b01c1c" stroke-width="1"/>
<rect x="368.3" y="479.3" width="8.8" height="2" fill="#000"/>
<rect x="368.3" y="493.5" width="8.8" height="2.3" fill="#000"/>
<path d="M369.3,481.3 L369.3,493.5 M376.1,481.3 L376.1,493.5" stroke="#000" stroke-width="1.6" fill="none"/>
<line x1="369.3" y1="483.5" x2="376.1" y2="483.5" stroke="#000" stroke-width="1.2"/>
<line x1="369.3" y1="486.5" x2="376.1" y2="486.5" stroke="#000" stroke-width="1.2"/>
<line x1="369.3" y1="490.5" x2="376.1" y2="490.5" stroke="#000" stroke-width="1.2"/>
<path d="M377.1,488.3 L378.9,486.7 L378.9,495.3" stroke="#000" stroke-width="1.3" fill="none"/>
<g stroke="#000" stroke-width="1" fill="none"><line x1="385.6" y1="475.6" x2="385.6" y2="488.6"/><ellipse cx="385.6" cy="483" rx="4.3" ry="3.2"/></g>
<path d="M486,25 A29,11.5 0 0 1 544,25" stroke="#000" stroke-width="1.3" fill="none"/>
<line x1="486.5" y1="24.5" x2="486.5" y2="66" stroke="#000" stroke-width="1.3"/>
<line x1="544.5" y1="24.5" x2="544.5" y2="66" stroke="#000" stroke-width="1.3"/>
<line x1="486" y1="31.5" x2="544" y2="31.5" stroke="#000" stroke-width="1.3"/>
<path d="M449.2,92.5 A65.35,29.9 0 0 1 579.9,92.5" stroke="#000" stroke-width="1.4" fill="none"/>
<line x1="449.2" y1="93.5" x2="581.9" y2="93.5" stroke="#b01c1c" stroke-width="1" stroke-dasharray="8 1.8"/>
<line x1="449.2" y1="96.5" x2="579.9" y2="96.5" stroke="#000" stroke-width="1.3"/>
<rect x="443.8" y="96" width="5.4" height="265.3" fill="url(#ins)"/>
<rect x="579.9" y="96" width="5.4" height="265.3" fill="url(#ins)"/>
<path d="M449.2,92.5 L449.2,363.3" stroke="#000" stroke-width="1.8" fill="none"/>
<path d="M449.2,92 L442.8,97 L442.8,360.3 L449.2,363.3" stroke="#000" stroke-width="1.8" fill="none"/>
<path d="M579.9,92.5 L579.9,363.3" stroke="#000" stroke-width="1.8" fill="none"/>
<path d="M579.9,92 L586.1,97 L586.1,360.3 L579.9,363.3" stroke="#000" stroke-width="1.8" fill="none"/>
<line x1="449.2" y1="363.5" x2="579.9" y2="363.5" stroke="#000" stroke-width="1.3"/>
<line x1="449.2" y1="363.3" x2="505.4" y2="412.8" stroke="#000" stroke-width="1.3"/>
<line x1="579.9" y1="363.3" x2="523.9" y2="412.8" stroke="#000" stroke-width="1.3"/>
<line x1="505.4" y1="412.5" x2="523.9" y2="412.5" stroke="#000" stroke-width="1.3"/>
<path d="M505.4,412.8 L505.4,427 A12.5,12.5 0 0 1 492.9,439.5" stroke="#000" stroke-width="1.5" fill="none"/>
<path d="M523.9,412.8 L523.9,427 A31,31 0 0 1 492.9,457.5" stroke="#000" stroke-width="1.5" fill="none"/>
<path d="M514.5,409.8 L514.5,427 A21.75,21.75 0 0 1 492.9,448.5" stroke="#b01c1c" stroke-width="1" fill="none"/>
<line x1="449.5" y1="363.3" x2="449.5" y2="513" stroke="#000" stroke-width="1.3"/>
<line x1="475.8" y1="387" x2="457.3" y2="513" stroke="#000" stroke-width="1.2"/>
<line x1="449.2" y1="513.5" x2="457.3" y2="513.5" stroke="#000" stroke-width="1.1"/>
<rect x="451.5" y="513" width="4" height="9" stroke="#000" stroke-width="1.1" fill="none"/>
<rect x="445.5" y="521.5" width="15" height="3" stroke="#000" stroke-width="1.1" fill="#fff"/>
<line x1="453.5" y1="513" x2="453.5" y2="530" stroke="#000" stroke-width="1"/>
<line x1="579.5" y1="363.3" x2="579.5" y2="513" stroke="#000" stroke-width="1.3"/>
<line x1="552.3" y1="387" x2="571.8" y2="513" stroke="#000" stroke-width="1.2"/>
<line x1="579.9" y1="513.5" x2="571.8" y2="513.5" stroke="#000" stroke-width="1.1"/>
<rect x="573.5" y="513" width="4" height="9" stroke="#000" stroke-width="1.1" fill="none"/>
<rect x="568.5" y="521.5" width="15" height="3" stroke="#000" stroke-width="1.1" fill="#fff"/>
<line x1="575.5" y1="513" x2="575.5" y2="530" stroke="#000" stroke-width="1"/>
<path d="M502.3,134.7 L508.2,132.6 L528.4,132.6 L528.4,141.9 L531.4,146.5 L530.1,150.8 L530.1,154.1 L528.4,158.4 L522.5,160.1 L520,162.6 L514.1,166 L509.9,168.5 L506.5,166 L505.6,162.6 L502.3,160.1 L501,155.4 L498.5,152.5 L498.9,142.7 L501.4,139.8Z" stroke="#000" stroke-width="1" fill="none"/>
<circle cx="514.5" cy="149.5" r="9.5" stroke="#000" stroke-width="1" fill="none"/>
<circle cx="514.5" cy="149.5" r="6.8" stroke="#000" stroke-width="1" fill="none"/>
<line x1="501" y1="149.5" x2="528" y2="149.5" stroke="#000" stroke-width="1"/>
<path d="M502.3,219.5 L508.2,217.4 L528.4,217.4 L528.4,226.7 L531.4,231.3 L530.1,235.6 L530.1,238.9 L528.4,243.2 L522.5,244.9 L520,247.4 L514.1,250.8 L509.9,253.3 L506.5,250.8 L505.6,247.4 L502.3,244.9 L501,240.2 L498.5,237.3 L498.9,227.5 L501.4,224.6Z" stroke="#000" stroke-width="1" fill="none"/>
<circle cx="514.5" cy="234.3" r="9.5" stroke="#000" stroke-width="1" fill="none"/>
<circle cx="514.5" cy="234.3" r="6.8" stroke="#000" stroke-width="1" fill="none"/>
<line x1="501" y1="234.5" x2="528" y2="234.5" stroke="#000" stroke-width="1"/>
<path d="M517.2,286.3 L517.2,282.2 L515.5,280.2 L513.5,280.2 L511.8,282.2 L511.8,286.3Z" stroke="#000" stroke-width="1.4" fill="#fff"/>
<path d="M532.74,298.39 L536.29,296.34 L537.17,293.87 L536.17,292.13 L533.59,291.66 L530.04,293.71Z" stroke="#000" stroke-width="1.4" fill="#fff"/>
<path d="M530.04,317.89 L533.59,319.94 L536.17,319.47 L537.17,317.73 L536.29,315.26 L532.74,313.21Z" stroke="#000" stroke-width="1.4" fill="#fff"/>
<path d="M511.8,325.3 L511.8,329.4 L513.5,331.4 L515.5,331.4 L517.2,329.4 L517.2,325.3Z" stroke="#000" stroke-width="1.4" fill="#fff"/>
<path d="M496.26,313.21 L492.71,315.26 L491.83,317.73 L492.83,319.47 L495.41,319.94 L498.96,317.89Z" stroke="#000" stroke-width="1.4" fill="#fff"/>
<path d="M498.96,293.71 L495.41,291.66 L492.83,292.13 L491.83,293.87 L492.71,296.34 L496.26,298.39Z" stroke="#000" stroke-width="1.4" fill="#fff"/>
<circle cx="514.5" cy="305.8" r="19.6" stroke="#000" stroke-width="2.4" fill="#fff"/>
<circle cx="514.5" cy="305.8" r="17" stroke="#2cc52c" stroke-width="1" fill="none"/>
<rect x="488.3" y="301.6" width="6.2" height="8.8" stroke="#000" stroke-width="2" fill="#fff"/>
<line x1="506.5" y1="300.3" x2="509.5" y2="297.3" stroke="#2cc52c" stroke-width="0.9"/>
<line x1="507.5" y1="301.8" x2="510.5" y2="298.8" stroke="#2cc52c" stroke-width="0.9"/>
<line x1="509" y1="309.8" x2="519" y2="299.8" stroke="#2cc52c" stroke-width="0.9"/>
<line x1="510" y1="311.3" x2="520" y2="301.3" stroke="#2cc52c" stroke-width="0.9"/>
<line x1="519.5" y1="312.8" x2="522.5" y2="309.8" stroke="#2cc52c" stroke-width="0.9"/>
<line x1="521" y1="314.3" x2="524" y2="311.3" stroke="#2cc52c" stroke-width="0.9"/>
<line x1="514.5" y1="5" x2="514.5" y2="418" stroke="#b01c1c" stroke-width="1" stroke-dasharray="30 1.3 7 1.3"/>
<path d="M472.4,57.5 L472.4,86 Q469.1,88.5 469.1,91.5 Q469.7,96 474.7,96.2 Q479.7,96 480.3,91.5 Q480.3,88.5 477,86 L477,57.5" stroke="#000" stroke-width="1.3" fill="#fff"/>
<path d="M470.1,58.3 Q470.7,56.6 472.2,56.6 L477.2,56.6 Q478.7,56.6 479.3,58.3" stroke="#000" stroke-width="1.4" fill="none"/>
<line x1="473.7" y1="58" x2="473.7" y2="86" stroke="#b01c1c" stroke-width="0.9"/>
<line x1="475.9" y1="58" x2="475.9" y2="86" stroke="#b01c1c" stroke-width="0.9"/>
<line x1="472.4" y1="77.5" x2="477" y2="77.5" stroke="#000" stroke-width="1"/>
<line x1="472.4" y1="81.5" x2="477" y2="81.5" stroke="#000" stroke-width="1"/>
<line x1="477" y1="77.5" x2="477" y2="86.5" stroke="#000" stroke-width="1.8"/>
<line x1="474.7" y1="86" x2="474.7" y2="102" stroke="#b01c1c" stroke-width="1"/>
<line x1="466.4" y1="91.5" x2="483.8" y2="91.5" stroke="#b01c1c" stroke-width="1.6"/>
<line x1="458.5" y1="64.7" x2="458.5" y2="81.7" stroke="#000" stroke-width="1.1"/>
<rect x="457" y="70.6" width="3" height="6" stroke="#000" stroke-width="1" fill="#fff"/>
<path d="M431.5,439 L431.5,212.5 Q431.5,210.5 433.5,210.5 L449,210.5" stroke="#6a0a0a" stroke-width="1.2" fill="none"/>
<path d="M433.5,439 L433.5,212.5 L449,212.5" stroke="#b01c1c" stroke-width="1.1" fill="none"/>
<line x1="431" y1="433.5" x2="435" y2="433.5" stroke="#000" stroke-width="1.2"/>
<rect x="441.5" y="258.6" width="7" height="14.6" fill="#fff"/>
<line x1="402.5" y1="258.5" x2="448.5" y2="258.5" stroke="#000" stroke-width="1.4"/>
<line x1="402.5" y1="273.5" x2="448.5" y2="273.5" stroke="#000" stroke-width="1.4"/>
<rect x="425.3" y="251.3" width="4.4" height="29.4" stroke="#000" stroke-width="1.1" fill="#fff"/>
<line x1="427.5" y1="251.3" x2="427.5" y2="280.7" stroke="#000" stroke-width="0.9"/>
<line x1="422" y1="253.5" x2="433" y2="253.5" stroke="#000" stroke-width="1"/>
<line x1="422" y1="278.5" x2="433" y2="278.5" stroke="#000" stroke-width="1"/>
<line x1="409" y1="266.5" x2="445" y2="266.5" stroke="#000" stroke-width="1"/>
<g stroke="#000" stroke-width="1" fill="none"><line x1="467.6" y1="6.5" x2="467.6" y2="19.5"/><ellipse cx="467.6" cy="13.9" rx="4.3" ry="3.2"/></g>
<path d="M578.5,86.5 L591,86.5 L595.5,90.8 L595.5,367.4" stroke="#000" stroke-width="1.1" fill="none"/>
<path d="M579.5,88.5 L592,88.5 L593.5,89.8 L593.5,367.4" stroke="#b01c1c" stroke-width="1.1" fill="none"/>
<path d="M580,90.6 L590.5,90.6 L591.5,91.8 L591.5,367.4" stroke="#5a0808" stroke-width="1.1" fill="none"/>
<line x1="590" y1="367.5" x2="596.6" y2="367.5" stroke="#000" stroke-width="1.5"/>
<line x1="581" y1="96.5" x2="600.8" y2="96.5" stroke="#2cc52c" stroke-width="1.2"/>
<rect x="597.5" y="98" width="2.7" height="3.5" fill="#2cc52c"/>
<circle cx="603.4" cy="333.6" r="3.6" stroke="#000" stroke-width="1.6" fill="#fff"/>
<line x1="602.2" y1="335" x2="604.6" y2="332.2" stroke="#000" stroke-width="0.8"/>
<path d="M603.4,337.5 L603.4,348.3 L595.1,348.3" stroke="#b01c1c" stroke-width="1.6" fill="none"/>
<rect x="454.1" y="430.4" width="6.4" height="4.4" stroke="#000" stroke-width="1.4" fill="#fff"/>
<line x1="454.9" y1="431.2" x2="459.7" y2="434.2" stroke="#000" stroke-width="1"/>
<line x1="454.9" y1="434.2" x2="459.7" y2="431.2" stroke="#000" stroke-width="1"/>
<line x1="453" y1="433.5" x2="454.1" y2="433.5" stroke="#000" stroke-width="1.2"/>
<line x1="460.5" y1="433.5" x2="461.6" y2="433.5" stroke="#000" stroke-width="1.2"/>
<path d="M456,434.8 L458.6,434.8 L458.6,437.3 L460.1,439.1 L454.5,439.1 L456,437.3 Z" stroke="#000" stroke-width="0.6" fill="#000"/>
<line x1="457.3" y1="429" x2="457.3" y2="437.8" stroke="#b01c1c" stroke-width="1"/>
<rect x="397" y="440" width="97" height="17.8" fill="#fff"/>
<line x1="396" y1="439.5" x2="494" y2="439.5" stroke="#000" stroke-width="1.4"/>
<line x1="377" y1="458.5" x2="496" y2="458.5" stroke="#000" stroke-width="1.4"/>
<line x1="378.2" y1="448.5" x2="495" y2="448.5" stroke="#b01c1c" stroke-width="1" stroke-dasharray="16 3 3 3"/>
<rect x="415.7" y="432.3" width="5.8" height="33.6" stroke="#000" stroke-width="1" fill="#fff"/>
<line x1="418.6" y1="432.3" x2="418.6" y2="465.9" stroke="#000" stroke-width="1.7"/>
<line x1="412.7" y1="434.5" x2="424.5" y2="434.5" stroke="#000" stroke-width="1"/>
<line x1="412.7" y1="463.5" x2="424.5" y2="463.5" stroke="#000" stroke-width="1"/>
<line x1="478.5" y1="439.5" x2="478.5" y2="458.3" stroke="#000" stroke-width="1.1"/>
<line x1="402" y1="411.5" x2="448.3" y2="411.5" stroke="#000" stroke-width="1.1"/>
<line x1="472.39" y1="411.5" x2="505.6" y2="411.5" stroke="#000" stroke-width="1.1"/>
<line x1="524.1" y1="411.5" x2="556.55" y2="411.5" stroke="#000" stroke-width="1.1"/>
<line x1="402" y1="422.5" x2="448.3" y2="422.5" stroke="#000" stroke-width="1.1"/>
<line x1="470.79" y1="422.5" x2="505.6" y2="422.5" stroke="#000" stroke-width="1.1"/>
<line x1="524.1" y1="422.5" x2="558.21" y2="422.5" stroke="#000" stroke-width="1.1"/>
<line x1="395" y1="416.5" x2="612" y2="416.5" stroke="#b01c1c" stroke-width="1" stroke-dasharray="16 3 3 3"/>
<rect x="416.7" y="405.3" width="5.8" height="24" stroke="#000" stroke-width="1" fill="#fff"/>
<line x1="419.6" y1="405.3" x2="419.6" y2="429.3" stroke="#000" stroke-width="1.7"/>
<line x1="413.7" y1="407.5" x2="425.5" y2="407.5" stroke="#b01c1c" stroke-width="1"/>
<line x1="413.7" y1="427.5" x2="425.5" y2="427.5" stroke="#b01c1c" stroke-width="1"/>
<line x1="415" y1="407.5" x2="424.5" y2="407.5" stroke="#b01c1c" stroke-width="1"/>
<line x1="415" y1="427.5" x2="424.5" y2="427.5" stroke="#b01c1c" stroke-width="1"/>
<line x1="544" y1="33.5" x2="663" y2="33.5" stroke="#000" stroke-width="1.3"/>
<line x1="544" y1="52.5" x2="612.7" y2="52.5" stroke="#000" stroke-width="1.3"/>
<line x1="631.2" y1="52.5" x2="663" y2="52.5" stroke="#000" stroke-width="1.3"/>
<path d="M612.7,52.3 L621,44.4 L631.2,52.3" stroke="#000" stroke-width="1.2" fill="none"/>
<line x1="612.5" y1="52.3" x2="612.5" y2="366" stroke="#000" stroke-width="1.3"/>
<line x1="631.5" y1="52.3" x2="631.5" y2="366" stroke="#000" stroke-width="1.3"/>
<line x1="534" y1="43.5" x2="688" y2="43.5" stroke="#b01c1c" stroke-width="1" stroke-dasharray="16 3 3 3"/>
<line x1="621.5" y1="44" x2="621.5" y2="455" stroke="#b01c1c" stroke-width="1" stroke-dasharray="30 1.3 7 1.3"/>
<rect x="658.6" y="28" width="4.6" height="30.5" stroke="#000" stroke-width="1.6" fill="#fff"/>
<line x1="663" y1="33.5" x2="675.5" y2="33.5" stroke="#000" stroke-width="1.1"/>
<line x1="663" y1="52.5" x2="675.5" y2="52.5" stroke="#000" stroke-width="1.1"/>
<rect x="609" y="365" width="25.6" height="3.8" fill="#000"/>
<line x1="612.5" y1="368" x2="612.5" y2="382" stroke="#000" stroke-width="1.1"/>
<line x1="631.5" y1="368" x2="631.5" y2="382" stroke="#000" stroke-width="1.1"/>
<path d="M607,433 L607,390 Q607,382 615,382 L628.5,382 Q636.5,382 636.5,390 L636.5,433 Q636.5,443 622,443 Q607,443 607,433 Z" stroke="#000" stroke-width="1.3" fill="none"/>
<line x1="607" y1="390.5" x2="636.5" y2="390.5" stroke="#000" stroke-width="1.1"/>
<line x1="607" y1="432.5" x2="636.5" y2="432.5" stroke="#000" stroke-width="0.8"/>
<rect x="619" y="443" width="6.5" height="5" stroke="#000" stroke-width="1" fill="none"/>
<rect x="617.5" y="448" width="9.5" height="3" fill="#86e6e6"/>
<line x1="616.5" y1="451.5" x2="628" y2="451.5" stroke="#000" stroke-width="1.2"/>
<rect x="585.5" y="405.5" width="5" height="24" stroke="#000" stroke-width="1.2" fill="#fff"/>
<line x1="587.5" y1="405.5" x2="587.5" y2="429.5" stroke="#000" stroke-width="0.8"/>
<line x1="588.2" y1="405.5" x2="588.2" y2="429.5" stroke="#000" stroke-width="1.6"/>
<line x1="589.5" y1="405.5" x2="589.5" y2="429.5" stroke="#000" stroke-width="0.8"/>
<rect x="595.5" y="405.5" width="5" height="24" stroke="#000" stroke-width="1.2" fill="#fff"/>
<line x1="597.5" y1="405.5" x2="597.5" y2="429.5" stroke="#000" stroke-width="0.8"/>
<line x1="598.2" y1="405.5" x2="598.2" y2="429.5" stroke="#000" stroke-width="1.6"/>
<line x1="599.5" y1="405.5" x2="599.5" y2="429.5" stroke="#000" stroke-width="0.8"/>
<line x1="582.9" y1="407.5" x2="603.1" y2="407.5" stroke="#b01c1c" stroke-width="1.1"/>
<line x1="582.9" y1="426.5" x2="603.1" y2="426.5" stroke="#b01c1c" stroke-width="1.1"/>
<path d="M590.5,411 L595.5,423 M590.5,423 L595.5,411" stroke="#000" stroke-width="1.1" fill="none"/>
<path d="M593,414.5 L594.3,417 L593,419.5 L591.7,417 Z" stroke="#000" stroke-width="0.6" fill="#000"/>
<line x1="580.6" y1="411.5" x2="585.5" y2="411.5" stroke="#000" stroke-width="1.1"/>
<line x1="580.6" y1="422.5" x2="585.5" y2="422.5" stroke="#000" stroke-width="1.1"/>
<line x1="600.5" y1="411.5" x2="607" y2="411.5" stroke="#000" stroke-width="1.1"/>
<line x1="600.5" y1="422.5" x2="607" y2="422.5" stroke="#000" stroke-width="1.1"/>
<path d="M675.3,27.3 A33.05,16.6 0 0 1 741.4,27.3" stroke="#000" stroke-width="1.3" fill="none"/>
<line x1="675.5" y1="26.5" x2="675.5" y2="58" stroke="#000" stroke-width="1.1"/>
<line x1="741.5" y1="26.5" x2="741.5" y2="58" stroke="#000" stroke-width="1.1"/>
<line x1="675.3" y1="27.5" x2="741.4" y2="27.5" stroke="#000" stroke-width="1.1"/>
<line x1="675.3" y1="30.5" x2="741.4" y2="30.5" stroke="#000" stroke-width="1.1"/>
<line x1="721.5" y1="11.5" x2="721.5" y2="58" stroke="#000" stroke-width="1.8"/>
<rect x="668.5" y="57.6" width="80.3" height="5" stroke="#000" stroke-width="1.1" fill="#fff"/>
<rect x="668.5" y="346.5" width="80.3" height="5.5" stroke="#000" stroke-width="1.1" fill="none"/>
<line x1="668.5" y1="60.5" x2="748.8" y2="60.5" stroke="#000" stroke-width="0.9"/>
<line x1="668.5" y1="349.5" x2="748.8" y2="349.5" stroke="#000" stroke-width="0.9"/>
<line x1="671.5" y1="47.5" x2="671.5" y2="65" stroke="#b01c1c" stroke-width="1"/>
<line x1="671.5" y1="342.3" x2="671.5" y2="355.5" stroke="#000" stroke-width="1"/>
<line x1="744.5" y1="47.5" x2="744.5" y2="65" stroke="#b01c1c" stroke-width="1"/>
<line x1="744.5" y1="342.3" x2="744.5" y2="355.5" stroke="#000" stroke-width="1"/>
<line x1="675.5" y1="62.6" x2="675.5" y2="346.5" stroke="#000" stroke-width="1.2"/>
<line x1="741.5" y1="62.6" x2="741.5" y2="346.5" stroke="#000" stroke-width="1.2"/>
<line x1="682.5" y1="62.6" x2="682.5" y2="89.5" stroke="#000" stroke-width="1.2"/>
<line x1="682.5" y1="89.5" x2="682.5" y2="324" stroke="#000" stroke-width="1.2" stroke-dasharray="0 3.2 6.1 3.44 24 0"/>
<line x1="682.5" y1="322.5" x2="682.5" y2="352.5" stroke="#000" stroke-width="1.2"/>
<line x1="685.5" y1="62.6" x2="685.5" y2="89.5" stroke="#000" stroke-width="1.2"/>
<line x1="685.5" y1="89.5" x2="685.5" y2="324" stroke="#000" stroke-width="1.2" stroke-dasharray="0 3.2 6.1 3.44 24 0"/>
<line x1="685.5" y1="322.5" x2="685.5" y2="352.5" stroke="#000" stroke-width="1.2"/>
<line x1="690.5" y1="62.6" x2="690.5" y2="89.5" stroke="#000" stroke-width="1.2"/>
<line x1="690.5" y1="89.5" x2="690.5" y2="324" stroke="#000" stroke-width="1.2" stroke-dasharray="0 3.2 6.1 3.44 24 0"/>
<line x1="690.5" y1="322.5" x2="690.5" y2="352.5" stroke="#000" stroke-width="1.2"/>
<line x1="696.5" y1="62.6" x2="696.5" y2="89.5" stroke="#000" stroke-width="1.2"/>
<line x1="696.5" y1="89.5" x2="696.5" y2="324" stroke="#000" stroke-width="1.2" stroke-dasharray="0 3.2 6.1 3.44 24 0"/>
<line x1="696.5" y1="322.5" x2="696.5" y2="352.5" stroke="#000" stroke-width="1.2"/>
<line x1="700.5" y1="62.6" x2="700.5" y2="89.5" stroke="#000" stroke-width="1.2"/>
<line x1="700.5" y1="89.5" x2="700.5" y2="324" stroke="#000" stroke-width="1.2" stroke-dasharray="0 3.2 6.1 3.44 24 0"/>
<line x1="700.5" y1="322.5" x2="700.5" y2="352.5" stroke="#000" stroke-width="1.2"/>
<line x1="704.5" y1="62.6" x2="704.5" y2="89.5" stroke="#000" stroke-width="1.2"/>
<line x1="704.5" y1="89.5" x2="704.5" y2="324" stroke="#000" stroke-width="1.2" stroke-dasharray="0 3.2 6.1 3.44 24 0"/>
<line x1="704.5" y1="322.5" x2="704.5" y2="352.5" stroke="#000" stroke-width="1.2"/>
<line x1="712.5" y1="62.6" x2="712.5" y2="89.5" stroke="#000" stroke-width="1.2"/>
<line x1="712.5" y1="89.5" x2="712.5" y2="324" stroke="#000" stroke-width="1.2" stroke-dasharray="0 3.2 6.1 3.44 24 0"/>
<line x1="712.5" y1="322.5" x2="712.5" y2="352.5" stroke="#000" stroke-width="1.2"/>
<line x1="716.5" y1="62.6" x2="716.5" y2="89.5" stroke="#000" stroke-width="1.2"/>
<line x1="716.5" y1="89.5" x2="716.5" y2="324" stroke="#000" stroke-width="1.2" stroke-dasharray="0 3.2 6.1 3.44 24 0"/>
<line x1="716.5" y1="322.5" x2="716.5" y2="352.5" stroke="#000" stroke-width="1.2"/>
<line x1="727.5" y1="62.6" x2="727.5" y2="89.5" stroke="#000" stroke-width="1.2"/>
<line x1="727.5" y1="89.5" x2="727.5" y2="324" stroke="#000" stroke-width="1.2" stroke-dasharray="0 3.2 6.1 3.44 24 0"/>
<line x1="727.5" y1="322.5" x2="727.5" y2="352.5" stroke="#000" stroke-width="1.2"/>
<line x1="731.5" y1="62.6" x2="731.5" y2="89.5" stroke="#000" stroke-width="1.2"/>
<line x1="731.5" y1="89.5" x2="731.5" y2="324" stroke="#000" stroke-width="1.2" stroke-dasharray="0 3.2 6.1 3.44 24 0"/>
<line x1="731.5" y1="322.5" x2="731.5" y2="352.5" stroke="#000" stroke-width="1.2"/>
<line x1="734.5" y1="62.6" x2="734.5" y2="89.5" stroke="#000" stroke-width="1.2"/>
<line x1="734.5" y1="89.5" x2="734.5" y2="324" stroke="#000" stroke-width="1.2" stroke-dasharray="0 3.2 6.1 3.44 24 0"/>
<line x1="734.5" y1="322.5" x2="734.5" y2="352.5" stroke="#000" stroke-width="1.2"/>
<line x1="708.5" y1="26" x2="708.5" y2="515" stroke="#b01c1c" stroke-width="1" stroke-dasharray="34 1.4 1.6 1.4"/>
<line x1="741.4" y1="38.5" x2="756" y2="38.5" stroke="#000" stroke-width="1.1"/>
<line x1="741.4" y1="47.5" x2="756" y2="47.5" stroke="#000" stroke-width="1.1"/>
<rect x="756" y="32" width="2.8" height="22" stroke="#000" stroke-width="1.1" fill="#fff"/>
<line x1="741.5" y1="43.5" x2="762.5" y2="43.5" stroke="#b01c1c" stroke-width="1"/>
<line x1="754" y1="34.5" x2="761" y2="34.5" stroke="#b01c1c" stroke-width="1"/>
<line x1="754" y1="51.5" x2="761" y2="51.5" stroke="#b01c1c" stroke-width="1"/>
<line x1="741.4" y1="66.5" x2="750" y2="66.5" stroke="#000" stroke-width="1.1"/>
<line x1="741.4" y1="72.5" x2="750" y2="72.5" stroke="#000" stroke-width="1.1"/>
<rect x="750" y="60" width="2.8" height="19.3" stroke="#000" stroke-width="1.1" fill="#fff"/>
<line x1="737" y1="69.5" x2="757" y2="69.5" stroke="#b01c1c" stroke-width="1"/>
<line x1="741.4" y1="336.5" x2="750.3" y2="336.5" stroke="#000" stroke-width="1.1"/>
<line x1="741.4" y1="344.5" x2="750.3" y2="344.5" stroke="#000" stroke-width="1.1"/>
<rect x="750.3" y="331.3" width="2.4" height="19.1" stroke="#000" stroke-width="1.1" fill="#fff"/>
<line x1="737" y1="340.5" x2="754.7" y2="340.5" stroke="#b01c1c" stroke-width="1"/>
<line x1="675.5" y1="352" x2="675.5" y2="383" stroke="#000" stroke-width="1.1"/>
<line x1="741.5" y1="352" x2="741.5" y2="380" stroke="#000" stroke-width="1.1"/>
<path d="M660.8,471 L660.8,400 A47.85,20.8 0 0 1 756.5,400 L756.5,471" stroke="#000" stroke-width="1.4" fill="none"/>
<line x1="660.8" y1="404.5" x2="756.5" y2="404.5" stroke="#000" stroke-width="1.1"/>
<line x1="660.8" y1="466.5" x2="756.5" y2="466.5" stroke="#000" stroke-width="1.1"/>
<path d="M660.8,470 A47.85,21 0 0 0 756.5,470" stroke="#000" stroke-width="1.4" fill="none"/>
<path d="M696.2,409.2 L702.1,407.1 L722.3,407.1 L722.3,416.4 L725.3,421 L724,425.3 L724,428.6 L722.3,432.9 L716.4,434.6 L713.9,437.1 L708,440.5 L703.8,443 L700.4,440.5 L699.5,437.1 L696.2,434.6 L694.9,429.9 L692.4,427 L692.8,417.2 L695.3,414.3Z" stroke="#000" stroke-width="1" fill="none"/>
<circle cx="708.4" cy="424" r="9.5" stroke="#000" stroke-width="1" fill="none"/>
<circle cx="708.4" cy="424" r="6.8" stroke="#000" stroke-width="1" fill="none"/>
<line x1="694.9" y1="424.5" x2="721.9" y2="424.5" stroke="#000" stroke-width="1"/>
<line x1="660.5" y1="471" x2="660.5" y2="513.3" stroke="#000" stroke-width="1.1"/>
<line x1="674" y1="484" x2="670" y2="513.3" stroke="#000" stroke-width="1.1"/>
<line x1="660.8" y1="513.5" x2="670" y2="513.5" stroke="#000" stroke-width="1.1"/>
<rect x="663" y="513.3" width="5" height="8" stroke="#000" stroke-width="1.1" fill="none"/>
<rect x="657" y="521" width="15.7" height="3.2" stroke="#000" stroke-width="1.1" fill="#fff"/>
<line x1="665.5" y1="513" x2="665.5" y2="529" stroke="#000" stroke-width="1"/>
<line x1="756.5" y1="471" x2="756.5" y2="513.3" stroke="#000" stroke-width="1.1"/>
<line x1="744" y1="484" x2="748" y2="513.3" stroke="#000" stroke-width="1.1"/>
<line x1="748" y1="513.5" x2="756.5" y2="513.5" stroke="#000" stroke-width="1.1"/>
<rect x="750" y="513.3" width="5" height="8" stroke="#000" stroke-width="1.1" fill="none"/>
<rect x="744.5" y="521" width="15.5" height="3.2" stroke="#000" stroke-width="1.1" fill="#fff"/>
<line x1="752.5" y1="513" x2="752.5" y2="529" stroke="#000" stroke-width="1"/>
<rect x="704.5" y="491" width="6.5" height="9" stroke="#000" stroke-width="1" fill="none"/>
<line x1="702.5" y1="500.5" x2="713" y2="500.5" stroke="#000" stroke-width="1.3"/>
<path d="M675.3,363.5 L647.5,363.5 Q643.5,363.5 643.5,367.5 L643.5,402" stroke="#000" stroke-width="1.2" fill="none"/>
<path d="M675.3,366.5 L649.5,366.5 Q646.5,366.5 646.5,369.5 L646.5,402" stroke="#000" stroke-width="1.2" fill="none"/>
<rect x="667.4" y="362" width="2.3" height="6.2" fill="#000"/>
<path d="M641.3,402 L649,402 L645,405 Z M641.3,408 L649,408 L645,405 Z" stroke="#000" stroke-width="0.8" fill="#000"/>
<path d="M641.3,423 L649,423 L645,426 Z M641.3,429 L649,429 L645,426 Z" stroke="#000" stroke-width="0.8" fill="#000"/>
<line x1="643.5" y1="408" x2="643.5" y2="423" stroke="#000" stroke-width="1.1"/>
<line x1="646.5" y1="408" x2="646.5" y2="423" stroke="#000" stroke-width="1.1"/>
<line x1="646.5" y1="413.5" x2="660.8" y2="413.5" stroke="#000" stroke-width="1.1"/>
<line x1="646.5" y1="416.5" x2="660.8" y2="416.5" stroke="#000" stroke-width="1.1"/>
<rect x="653.4" y="411.9" width="2.4" height="7" fill="#000"/>
<rect x="643.5" y="429.5" width="4.5" height="4.3" stroke="#000" stroke-width="1.1" fill="#fff"/>
<line x1="645.5" y1="429.5" x2="645.5" y2="433.8" stroke="#000" stroke-width="0.9"/>
<path d="M741.4,378 L761,378 Q770.5,378 770.5,388 L770.5,409 Q770.5,417 762,417 L756.5,417" stroke="#000" stroke-width="1.1" fill="none"/>
<path d="M741.4,383 L759,383 Q765.5,383 765.5,390 L765.5,407 Q765.5,412 760,412 L756.5,412" stroke="#000" stroke-width="1.1" fill="none"/>
<path d="M760,380.5 Q768,380.5 768,390 L768,408 Q768,414.5 760,414.5 L746,414.5" stroke="#b01c1c" stroke-width="1" fill="none" stroke-dasharray="8 2 3 2"/>
<rect x="761.5" y="391.5" width="13" height="3" stroke="#000" stroke-width="1" fill="#fff"/>
<rect x="761.5" y="402.5" width="13" height="3" stroke="#000" stroke-width="1" fill="#fff"/>
<g filter="url(#nolcd)"><text x="15.9" y="304.9" font-size="10" fill="#000" font-family="Liberation Serif" stroke="#000" stroke-width="0.35" textLength="20.3" lengthAdjust="spacingAndGlyphs">DN40</text>
<text x="6.8" y="405.9" font-size="10" fill="#000" font-family="Liberation Serif" stroke="#000" stroke-width="0.35" textLength="20.5" lengthAdjust="spacingAndGlyphs">DN40</text>
<text x="112.8" y="479.8" font-size="11" fill="#000">38</text>
<text x="189.6" y="48" font-size="11" fill="#000">32</text>
<text x="233.8" y="391" font-size="11.5" fill="#2cc52c" textLength="12.2" lengthAdjust="spacingAndGlyphs">90</text>
<text x="324" y="326" font-size="9" fill="#000">P1</text>
<text x="393.6" y="487.6" font-size="11" fill="#000">38</text>
<text x="475.6" y="18.5" font-size="11" fill="#000">32</text>
<text x="613.2 618.7 624.7" y="466.9" font-size="9.2" fill="#000">ø32</text>
<text x="769" y="83" font-size="10" fill="#000" font-family="Liberation Serif" stroke="#000" stroke-width="0.3" textLength="25.5" lengthAdjust="spacingAndGlyphs">DN100</text>
<text x="762.6" y="332.5" font-size="10" fill="#000" font-family="Liberation Serif" stroke="#000" stroke-width="0.3" textLength="25.5" lengthAdjust="spacingAndGlyphs">DN100</text>
<text x="718.2 723.7 729.7" y="501.8" font-size="9.2" fill="#000">ø38</text></g>
</svg>
</body></html>
